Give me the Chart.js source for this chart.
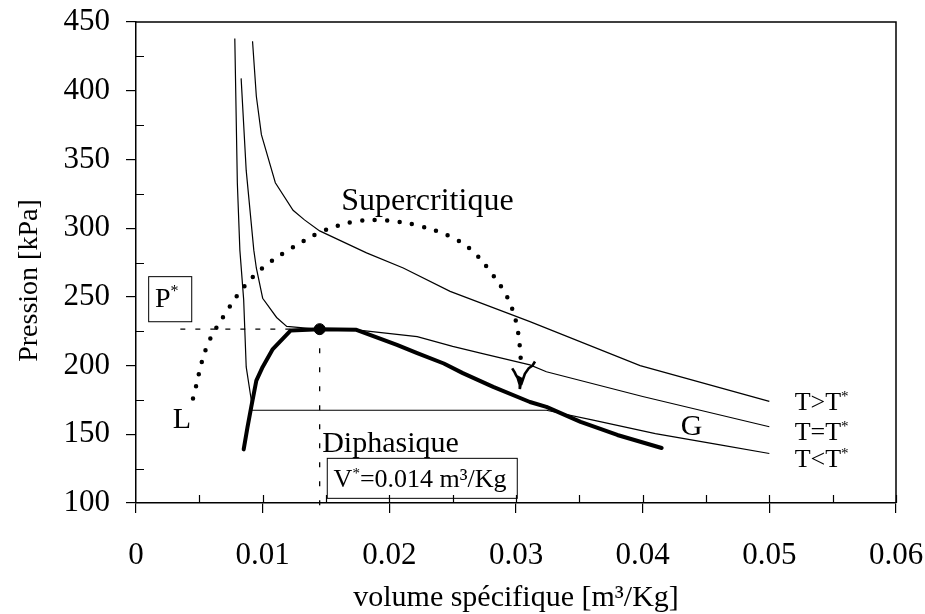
<!DOCTYPE html>
<html>
<head>
<meta charset="utf-8">
<title>Pression - volume spécifique</title>
<script src="https://cdn.jsdelivr.net/npm/chart.js"></script>
<style>body{margin:0;background:#fff;}canvas{display:block;}</style>
</head>
<body>
<canvas id="chart" width="925" height="614"></canvas>
<script>
// isotherme T>T*
const hotV = [0.0092, 0.0095, 0.0099, 0.0110, 0.0124, 0.0133, 0.0145, 0.0182, 0.0211, 0.0248, 0.0311, 0.0398, 0.0500];
const hotP = [436, 396, 368, 333, 313, 306, 298, 282, 271, 254, 232, 200, 174];
// isotherme T=T*
const critV = [0.0083, 0.0087, 0.0093, 0.0095, 0.0100, 0.0111, 0.0119, 0.0143, 0.0174, 0.0222, 0.0250, 0.0272, 0.0311, 0.0324, 0.0400, 0.0500];
const critP = [409, 342, 284, 271, 249, 235, 228.5, 226.5, 226, 221, 214, 209, 200.5, 195.5, 177.5, 155.5];
// isotherme T<T* (liquide, palier, gaz)
const coldV = [0.0078, 0.0080, 0.0082, 0.0085, 0.0087, 0.0091, 0.0091, 0.0324, 0.0360, 0.0410, 0.0460, 0.0500];
const coldP = [438, 333, 284, 248, 199, 175, 167.5, 167.5, 160.5, 150.5, 142.5, 136];
// courbe de saturation
const satV = [0.0085, 0.0088, 0.0091, 0.0095, 0.0100, 0.0108, 0.0122, 0.0145, 0.0174, 0.0206, 0.0222, 0.0243, 0.0258, 0.0282, 0.0311, 0.0324, 0.0351, 0.0380, 0.0415];
const satP = [139, 155, 170, 189, 199, 212, 225.5, 226.5, 226, 215, 209, 201.5, 194.5, 184.5, 173.5, 170, 159, 149.5, 140];
// courbe pointillée
const dotV = [0.0045, 0.0056, 0.0072, 0.0085, 0.0100, 0.0122, 0.0148, 0.0174, 0.0198, 0.0222, 0.0248, 0.0265, 0.0280, 0.0293, 0.0300, 0.0303, 0.0304];
const dotP = [176, 214, 240, 257, 271, 285, 298, 305, 305.5, 302, 294, 284, 268, 250, 232, 214, 200];
// fin bruitée de la courbe pointillée
const noiseV = [0.0297, 0.0299, 0.0300, 0.0302, 0.0301, 0.0303, 0.0303, 0.0304, 0.0303, 0.0305, 0.0304, 0.0307, 0.0310, 0.0313, 0.0315];
const noiseP = [198, 195, 193, 190, 192, 186, 183, 188, 191, 190, 186, 194, 198, 200, 203];
// point critique
const critPointV = 0.0145;
const critPointP = 226.5;
const pStarStartV = 0.0035;
const vStarEndP = 91;

const xTickVals = [0, 0.01, 0.02, 0.03, 0.04, 0.05, 0.06];
const xTickLabels = ['0', '0.01', '0.02', '0.03', '0.04', '0.05', '0.06'];
const yTickVals = [100, 150, 200, 250, 300, 350, 400, 450];
const yTickLabels = ['100', '150', '200', '250', '300', '350', '400', '450'];

const FONT = '"Liberation Serif", "Times New Roman", serif';
const pts = (vs, ps) => vs.map((v, i) => ({x: v, y: ps[i]}));

// textes (position en coordonnées du graphique)
const notes = [
  {v: 0.0162, p: 313.3, parts: [['Supercritique', 32]]},
  {v: 0.0015, p: 242.8, parts: [['P', 28], ['*', 16, 11]]},
  {v: 0.0029, p: 154.4, parts: [['L', 30]]},
  {v: 0.0147, p: 137.3, parts: [['Diphasique', 30]]},
  {v: 0.0156, p: 111.9, parts: [['V', 26], ['*', 15, 9], ['=0.014 m³/Kg', 26]]},
  {v: 0.0430, p: 149.5, parts: [['G', 30]]},
  {v: 0.0520, p: 167.7, parts: [['T>T', 26], ['*', 15, 9]]},
  {v: 0.0520, p: 145.8, parts: [['T=T', 26], ['*', 15, 9]]},
  {v: 0.0520, p: 126.4, parts: [['T<T', 26], ['*', 15, 9]]}
];
const boxes = [
  [0.0010, 264.7, 0.0044, 231.9],
  [0.0151, 132.5, 0.0301, 103.4]
];

const decor = {
  id: 'decor',
  afterDatasetsDraw(chart) {
    const {ctx, chartArea: a, scales: {x, y}} = chart;
    ctx.save();
    ctx.strokeStyle = '#000';
    ctx.fillStyle = '#000';
    // cadre haut / droite
    ctx.lineWidth = 1.5;
    ctx.beginPath();
    ctx.moveTo(a.left, a.top); ctx.lineTo(a.right, a.top); ctx.lineTo(a.right, a.bottom);
    ctx.stroke();
    // graduations secondaires
    ctx.lineWidth = 1.2;
    ctx.beginPath();
    for (let v = 0.005; v < 0.06; v += 0.005) {
      const px = Math.round(x.getPixelForValue(v)) + 0.5;
      ctx.moveTo(px, a.bottom); ctx.lineTo(px, a.bottom - 8);
    }
    for (let p = 125; p < 450; p += 50) {
      const py = Math.round(y.getPixelForValue(p)) + 0.5;
      ctx.moveTo(a.left, py); ctx.lineTo(a.left + 8, py);
    }
    ctx.stroke();
    // cadres
    ctx.lineWidth = 1;
    boxes.forEach(b => {
      const x1 = x.getPixelForValue(b[0]), y1 = y.getPixelForValue(b[1]);
      const x2 = x.getPixelForValue(b[2]), y2 = y.getPixelForValue(b[3]);
      ctx.strokeRect(x1, y1, x2 - x1, y2 - y1);
    });
    // textes
    ctx.textBaseline = 'alphabetic';
    ctx.textAlign = 'left';
    notes.forEach(n => {
      let px = x.getPixelForValue(n.v);
      const py = y.getPixelForValue(n.p);
      n.parts.forEach(([s, size, rise]) => {
        ctx.font = size + 'px ' + FONT;
        ctx.fillText(s, px, py - (rise || 0));
        px += ctx.measureText(s).width;
      });
    });
    // titre de l'axe vertical
    ctx.font = '28px ' + FONT;
    ctx.textAlign = 'center';
    ctx.textBaseline = 'middle';
    ctx.translate(a.left - 106, (a.top + a.bottom) / 2 + 18);
    ctx.rotate(-Math.PI / 2);
    ctx.fillText('Pression [kPa]', 0, 0);
    ctx.restore();
  }
};

const thin = {borderColor: '#000', borderWidth: 1.2, pointRadius: 0, showLine: true, tension: 0};

new Chart(document.getElementById('chart'), {
  type: 'scatter',
  data: {
    datasets: [
      {...thin, data: pts(hotV, hotP)},
      {...thin, data: pts(critV, critP)},
      {...thin, data: pts(coldV, coldP)},
      {...thin, borderWidth: 4, borderJoinStyle: 'round', borderCapStyle: 'round', data: pts(satV, satP)},
      {...thin, borderWidth: 4.5, borderDash: [0, 12.5], borderCapStyle: 'round', tension: 0.35, data: pts(dotV, dotP)},
      {...thin, borderWidth: 2.6, data: pts(noiseV, noiseP)},
      {...thin, borderWidth: 1.3, borderDash: [5, 10], data: [{x: pStarStartV, y: critPointP}, {x: critPointV, y: critPointP}]},
      {...thin, borderWidth: 1.3, borderDash: [5, 14], clip: false, data: [{x: critPointV, y: critPointP}, {x: critPointV, y: vStarEndP}]},
      {type: 'scatter', data: [{x: critPointV, y: critPointP}], pointRadius: 5.5, backgroundColor: '#000', borderColor: '#000'}
    ]
  },
  options: {
    responsive: false,
    animation: false,
    layout: {padding: {top: 22, right: 29, left: 0, bottom: 0}},
    plugins: {legend: {display: false}, tooltip: {enabled: false}},
    scales: {
      x: {
        type: 'linear', min: 0, max: 0.06,
        afterFit: s => { s.height = 111; s.paddingLeft = 0; s.paddingRight = 0; },
        afterBuildTicks: s => { s.ticks = xTickVals.map(v => ({value: v})); },
        ticks: {color: '#000', padding: 24, maxRotation: 0, font: {family: FONT, size: 31},
                callback: (v, i) => xTickLabels[i]},
        grid: {drawOnChartArea: false, tickLength: 10, color: '#000', lineWidth: 1.2},
        border: {display: true, color: '#000', width: 1.5},
        title: {display: true, text: 'volume spécifique [m³/Kg]', color: '#000',
                font: {family: FONT, size: 30, lineHeight: 1}, padding: {top: 0, bottom: 1}}
      },
      y: {
        type: 'linear', min: 100, max: 450,
        afterFit: s => { s.width = 136; s.paddingTop = 0; s.paddingBottom = 0; },
        afterBuildTicks: s => { s.ticks = yTickVals.map(v => ({value: v})); },
        ticks: {color: '#000', padding: 16, font: {family: FONT, size: 31},
                callback: (v, i) => yTickLabels[i]},
        grid: {drawOnChartArea: false, tickLength: 10, color: '#000', lineWidth: 1.2},
        border: {display: true, color: '#000', width: 1.5}
      }
    }
  },
  plugins: [decor]
});
</script>
</body>
</html>
